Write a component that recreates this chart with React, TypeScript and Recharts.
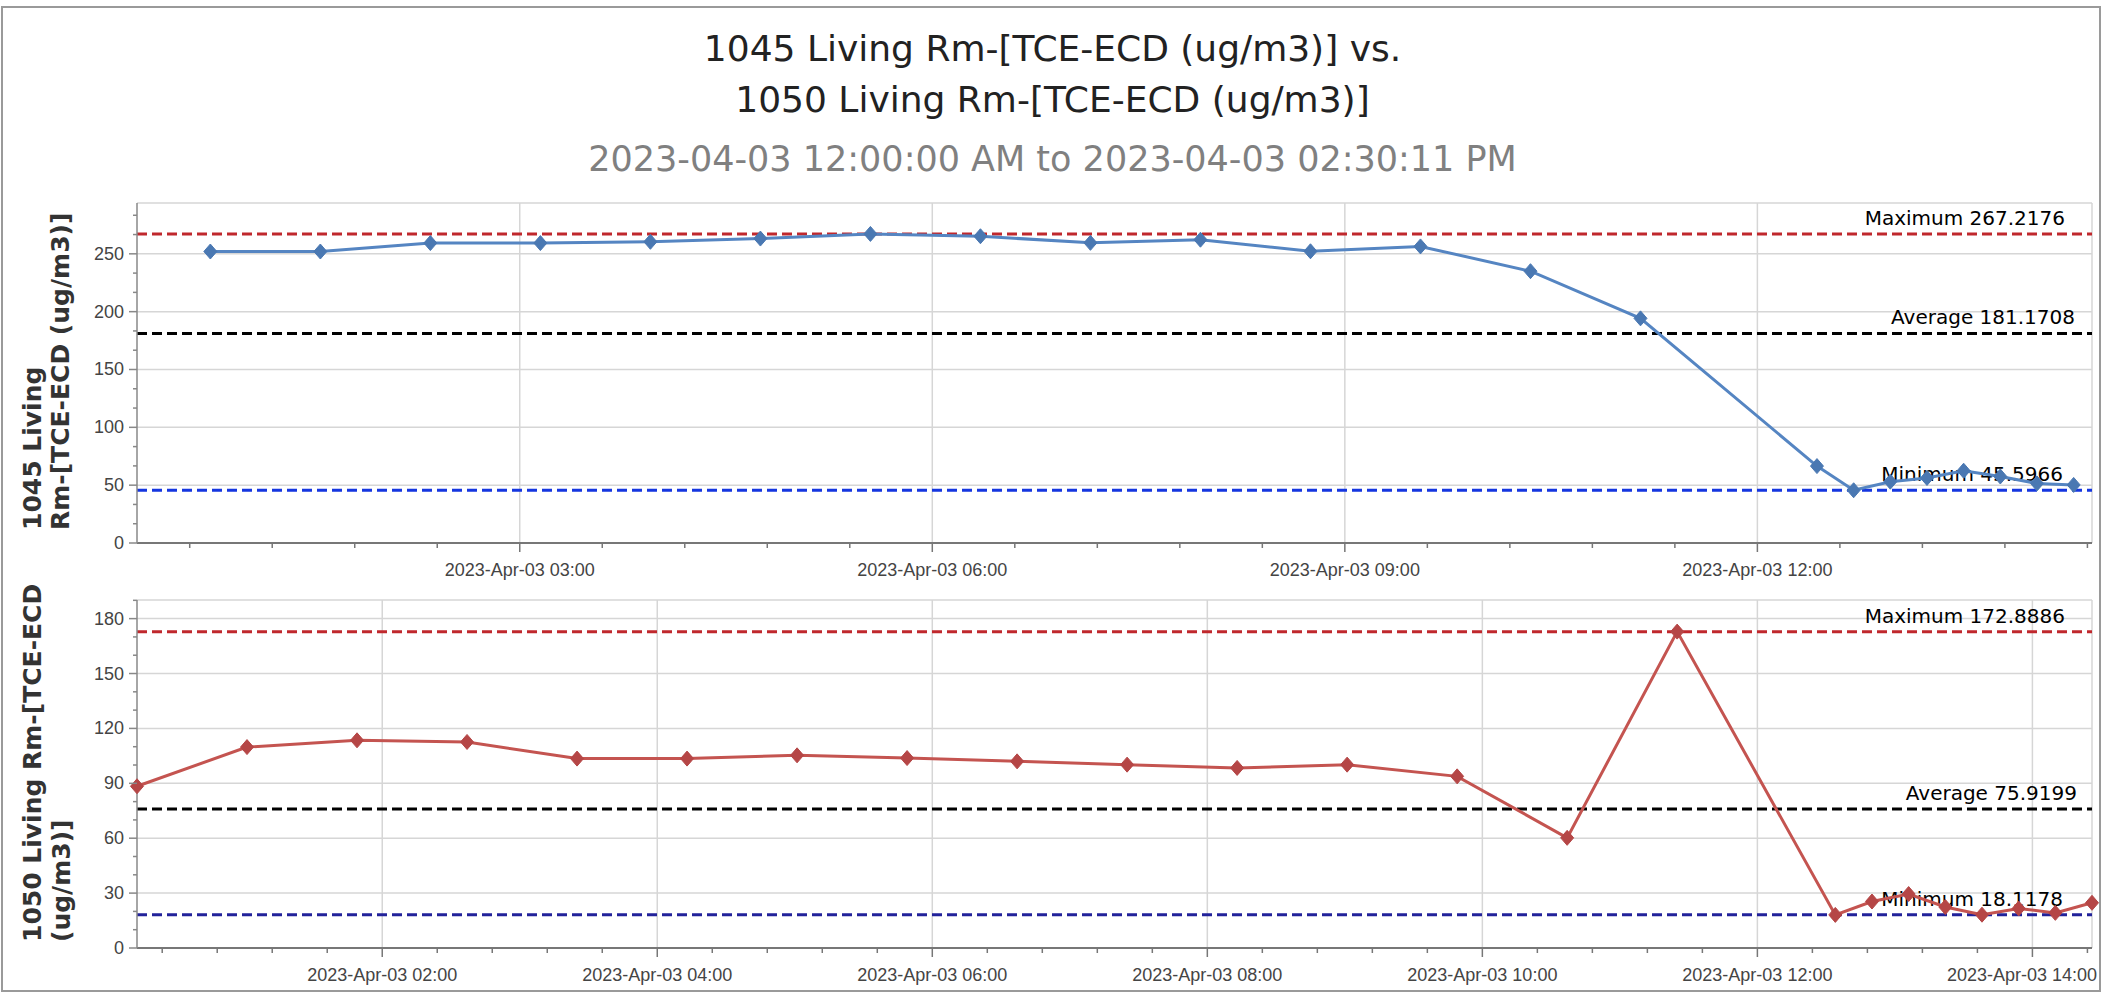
import React from 'react';
import {
  LineChart,
  Line,
  XAxis,
  YAxis,
  CartesianGrid,
  ReferenceLine,
} from 'recharts';

// 1045 Living Rm readings (time of day, ug/m3)
const topTimes = [
  '00:45', '01:33', '02:21', '03:09', '03:57', '04:45', '05:33', '06:21', '07:09', '07:57', '08:45',
  '09:33', '10:21', '11:09', '12:26', '12:42', '12:58', '13:14', '13:30', '13:46', '14:02', '14:18',
];
const topValues = [
  252.0, 252.0, 259.3, 259.3, 260.4, 263.2, 267.2, 265.2, 259.5, 262.2, 252.2,
  256.4, 235.0, 194.2, 66.5, 45.6, 53.0, 56.2, 62.5, 57.5, 51.5, 50.2,
];

// 1050 Living Rm readings
const bottomTimes = [
  '00:13', '01:01', '01:49', '02:37', '03:25', '04:13', '05:01', '05:49', '06:37', '07:25', '08:13', '09:01',
  '09:49', '10:37', '11:25', '12:34', '12:50', '13:06', '13:22', '13:38', '13:54', '14:10', '14:26',
];
const bottomValues = [
  88.4, 109.8, 113.5, 112.6, 103.5, 103.5, 105.3, 103.8, 102.0, 100.2, 98.4, 100.2,
  93.8, 60.2, 172.9, 18.1, 25.4, 29.5, 22.4, 18.2, 21.6, 19.2, 24.7,
];

// summary stats shown on the chart
const topStats = { max: 267.2176, avg: 181.1708, min: 45.5966 };
const bottomStats = { max: 172.8886, avg: 75.9199, min: 18.1178 };

// axis ticks
const topXTicks = [3, 6, 9, 12];
const topXLabels = ['2023-Apr-03 03:00', '2023-Apr-03 06:00', '2023-Apr-03 09:00', '2023-Apr-03 12:00'];
const bottomXTicks = [2, 4, 6, 8, 10, 12, 14];
const bottomXLabels = [
  '2023-Apr-03 02:00', '2023-Apr-03 04:00', '2023-Apr-03 06:00', '2023-Apr-03 08:00',
  '2023-Apr-03 10:00', '2023-Apr-03 12:00', '2023-Apr-03 14:00',
];
const topYTicks = [0, 50, 100, 150, 200, 250];
const bottomYTicks = [0, 30, 60, 90, 120, 150, 180];

const toHours = (t: string) => {
  const [h, m] = t.split(':').map(Number);
  return h + m / 60;
};

const topData = topTimes.map((t, i) => ({ h: toHours(t), v: topValues[i] }));
const bottomData = bottomTimes.map((t, i) => ({ h: toHours(t), v: bottomValues[i] }));

const X_MIN = toHours(bottomTimes[0]);
const X_MAX = toHours(bottomTimes[bottomTimes.length - 1]);
const TOP_Y_MAX = topStats.max * 1.1;
const BOTTOM_Y_MAX = bottomStats.max * 1.1;

const FONT = '"Liberation Sans", Arial, sans-serif';
const TITLE_FONT = '"DejaVu Sans", Verdana, sans-serif';

// major ticks plus (sub - 1) minor ticks between them
const withMinors = (step: number, sub: number, lo: number, hi: number) => {
  const out: number[] = [];
  const minor = step / sub;
  for (let i = 0; i * minor <= hi + 1e-9; i++) {
    const v = i * minor;
    if (v >= lo - 1e-9) out.push(v);
  }
  return out;
};

const Diamond = (color: string) => (props: any) => {
  const { cx, cy, index } = props;
  if (cx == null || cy == null) return <g key={index} />;
  return (
    <polygon
      key={index}
      points={`${cx},${cy - 7.5} ${cx + 6.5},${cy} ${cx},${cy + 7.5} ${cx - 6.5},${cy}`}
      fill={color}
      stroke={color}
      strokeWidth={1}
    />
  );
};

const makeYTick = (majors: number[]) => (props: any) => {
  const { x, y, payload } = props;
  const idx = majors.findIndex((m) => Math.abs(m - payload.value) < 1e-6);
  const major = idx >= 0;
  return (
    <g>
      <line x1={x - (major ? 8 : 4)} x2={x} y1={y} y2={y} stroke="#888" strokeWidth={1.5} />
      {major && (
        <text x={x - 13} y={y} dy={6} textAnchor="end" fontSize={18} fill="#444" fontFamily={FONT}>
          {majors[idx]}
        </text>
      )}
    </g>
  );
};

const makeXTick = (majors: number[], labels: string[]) => (props: any) => {
  const { x, y, payload } = props;
  const idx = majors.findIndex((m) => Math.abs(m - payload.value) < 1e-6);
  const major = idx >= 0;
  // keep the last label inside the frame
  const lx = Math.min(x, 2022);
  return (
    <g>
      <line x1={x} x2={x} y1={y} y2={y + (major ? 9 : 5)} stroke="#777" strokeWidth={1.5} />
      {major && (
        <text x={lx} y={y + 33} textAnchor="middle" fontSize={18} fill="#444" fontFamily={FONT}>
          {labels[idx]}
        </text>
      )}
    </g>
  );
};

const statLabel = (text: string, inset: number) => (props: any) => {
  const vb = props.viewBox;
  return (
    <text
      x={vb.x + vb.width - inset}
      y={vb.y - 9}
      textAnchor="end"
      fontSize={20}
      fill="#000"
      fontFamily={TITLE_FONT}
    >
      {text}
    </text>
  );
};

const RotatedLines = ({ lines, baseX, startY }: { lines: string[]; baseX: number[]; startY: number }) => (
  <svg width={110} height={995} style={{ position: 'absolute', left: 0, top: 0, pointerEvents: 'none' }}>
    {lines.map((l, i) => (
      <text
        key={i}
        x={baseX[i]}
        y={startY}
        transform={`rotate(-90 ${baseX[i]} ${startY})`}
        fontSize={25}
        fontWeight="bold"
        fill="#333"
        fontFamily={TITLE_FONT}
      >
        {l}
      </text>
    ))}
  </svg>
);

const titleStyle: React.CSSProperties = {
  position: 'absolute',
  left: 0,
  width: 2105,
  textAlign: 'center',
  fontFamily: TITLE_FONT,
  lineHeight: '44px',
  whiteSpace: 'nowrap',
};

export default function App() {
  const topYAll = withMinors(50, 3, 0, TOP_Y_MAX);
  const bottomYAll = withMinors(30, 3, 0, BOTTOM_Y_MAX);
  const topXAll = withMinors(3, 5, X_MIN, X_MAX);
  const bottomXAll = withMinors(2, 5, X_MIN, X_MAX);

  return (
    <div style={{ position: 'relative', width: 2105, height: 995, background: '#fff', overflow: 'hidden' }}>
      <style>{'body{margin:0;}'}</style>
      <div
        style={{
          position: 'absolute', left: 1, top: 6, width: 2100, height: 986,
          border: '2px solid #9a9a9a', boxSizing: 'border-box',
        }}
      />
      {/* titles */}
      <div style={{ ...titleStyle, top: 27, fontSize: 36, color: '#222' }}>
        1045 Living Rm-[TCE-ECD (ug/m3)] vs.
      </div>
      <div style={{ ...titleStyle, top: 78, fontSize: 36, color: '#222' }}>
        1050 Living Rm-[TCE-ECD (ug/m3)]
      </div>
      <div style={{ ...titleStyle, top: 137, fontSize: 35, color: '#808080' }}>
        2023-04-03 12:00:00 AM to 2023-04-03 02:30:11 PM
      </div>

      {/* upper chart */}
      <div style={{ position: 'absolute', left: 0, top: 190 }}>
        <LineChart width={2105} height={390} data={topData} margin={{ top: 13, right: 13, bottom: 7, left: 0 }}>
          <CartesianGrid
            stroke="#d6d6d6"
            strokeWidth={1.5}
            horizontalValues={[...topYTicks.slice(1), TOP_Y_MAX]}
            verticalValues={[...topXTicks, X_MAX]}
          />
          <XAxis
            type="number"
            dataKey="h"
            domain={[X_MIN, X_MAX]}
            ticks={topXAll}
            interval={0}
            tickSize={0}
            tickMargin={0}
            height={30}
            axisLine={{ stroke: '#777', strokeWidth: 2 }}
            tick={makeXTick(topXTicks, topXLabels)}
          />
          <YAxis
            type="number"
            domain={[0, TOP_Y_MAX]}
            ticks={topYAll}
            interval={0}
            tickSize={0}
            tickMargin={0}
            width={137}
            axisLine={{ stroke: '#888', strokeWidth: 1.5 }}
            tick={makeYTick(topYTicks)}
          />
          <ReferenceLine y={topStats.max} stroke="#c0282d" strokeWidth={3} strokeDasharray="10 5" label={statLabel('Maximum  267.2176', 27)} />
          <ReferenceLine y={topStats.avg} stroke="#000" strokeWidth={3} strokeDasharray="10 5" label={statLabel('Average 181.1708', 17)} />
          <ReferenceLine y={topStats.min} stroke="#1536e0" strokeWidth={3} strokeDasharray="10 5" label={statLabel('Minimum 45.5966', 29)} />
          <Line
            type="linear"
            dataKey="v"
            stroke="#5585c2"
            strokeWidth={3}
            dot={Diamond('#4a78b2')}
            activeDot={false}
            isAnimationActive={false}
          />
        </LineChart>
      </div>

      {/* lower chart */}
      <div style={{ position: 'absolute', left: 0, top: 580 }}>
        <LineChart width={2105} height={415} data={bottomData} margin={{ top: 20, right: 13, bottom: 17, left: 0 }}>
          <CartesianGrid
            stroke="#d6d6d6"
            strokeWidth={1.5}
            horizontalValues={[...bottomYTicks.slice(1), BOTTOM_Y_MAX]}
            verticalValues={[...bottomXTicks, X_MAX]}
          />
          <XAxis
            type="number"
            dataKey="h"
            domain={[X_MIN, X_MAX]}
            ticks={bottomXAll}
            interval={0}
            tickSize={0}
            tickMargin={0}
            height={30}
            axisLine={{ stroke: '#777', strokeWidth: 2 }}
            tick={makeXTick(bottomXTicks, bottomXLabels)}
          />
          <YAxis
            type="number"
            domain={[0, BOTTOM_Y_MAX]}
            ticks={bottomYAll}
            interval={0}
            tickSize={0}
            tickMargin={0}
            width={137}
            axisLine={{ stroke: '#888', strokeWidth: 1.5 }}
            tick={makeYTick(bottomYTicks)}
          />
          <ReferenceLine y={bottomStats.max} stroke="#c0282d" strokeWidth={3} strokeDasharray="10 5" label={statLabel('Maximum  172.8886', 27)} />
          <ReferenceLine y={bottomStats.avg} stroke="#000" strokeWidth={3} strokeDasharray="10 5" label={statLabel('Average 75.9199', 15)} />
          <ReferenceLine y={bottomStats.min} stroke="#22229a" strokeWidth={3} strokeDasharray="10 5" label={statLabel('Minimum 18.1178', 29)} />
          <Line
            type="linear"
            dataKey="v"
            stroke="#c45450"
            strokeWidth={3}
            dot={Diamond('#b54646')}
            activeDot={false}
            isAnimationActive={false}
          />
        </LineChart>
      </div>

      <RotatedLines lines={['1045 Living', 'Rm-[TCE-ECD (ug/m3)]']} baseX={[41, 69]} startY={530} />
      <RotatedLines lines={['1050 Living Rm-[TCE-ECD', '(ug/m3)]']} baseX={[41, 70]} startY={942} />
    </div>
  );
}
